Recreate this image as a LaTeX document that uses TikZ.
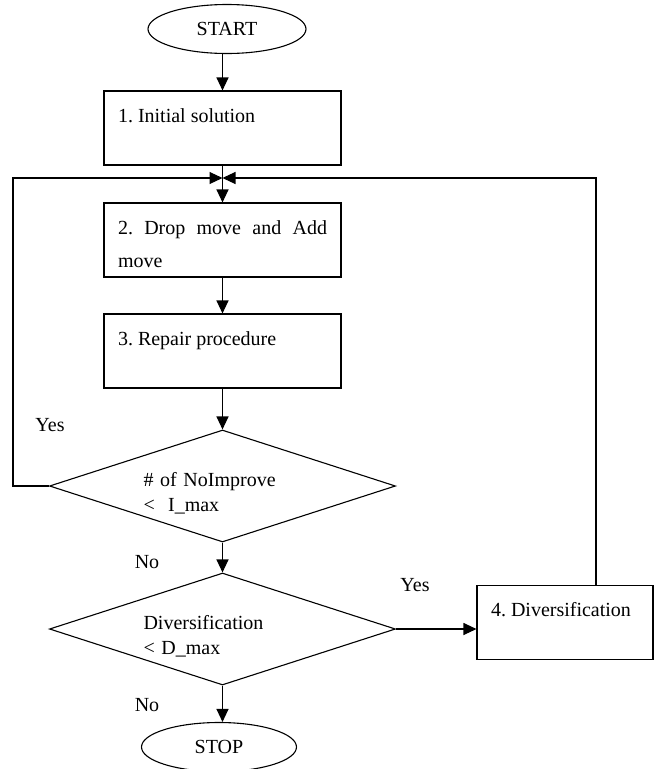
\documentclass[tikz,border=0pt]{standalone}
\usepackage{fontspec}
\setmainfont{Liberation Serif}
\usetikzlibrary{shapes.geometric,arrows.meta}
\frenchspacing
\begin{document}
\begin{tikzpicture}[x=1pt,y=-1pt,line width=1.1pt,
  font=\fontsize{20}{33}\selectfont,
  term/.style={ellipse, draw, minimum width=158pt, minimum height=49pt, inner sep=0pt},
  proc/.style={rectangle, draw, text width=209pt, inner xsep=14pt, inner ysep=0pt,
    text height=31pt, text depth=43pt, align=justify},
  dec/.style={diamond, draw, shape aspect=3.1, minimum width=346pt, minimum height=112pt,
    inner sep=0pt, text width=158pt, text height=29pt, align=left,
    font=\fontsize{20}{25}\selectfont},
  arr/.style={-{Triangle[length=13pt,width=12pt]}}]
\useasboundingbox (0,0) rectangle (660,769);
\node [term] (start) at (227,29) {START};
\node [proc] (box1) at (222.5,128) {1. Initial solution};
\coordinate (join) at (222.5,178);
\node [proc] (box2) at (222.5,240) {2. Drop move and Add move};
\node [proc] (box3) at (222.5,351) {3. Repair procedure};
\node [dec] (dec1) at (222.5,486) {\# of NoImprove\\<~~I\_max};
\node [dec] (dec2) at (222.5,629) {Diversification\\< D\_max};
\node [proc, text width=148pt] (box4) at (565,622.5) {4. Diversification};
\node [term, minimum width=155pt] (stop) at (219,747) {STOP};
\node (yes1) at (50,425) {Yes};
\node (no1) at (147,562) {No};
\node (yes2) at (415,585) {Yes};
\node (no2) at (147,705) {No};
\draw [arr] (start.south -| box1.north) -- (box1.north);
\draw (box1.south) -- (join);
\draw [arr] (join) -- (box2.north);
\draw [arr] (box2.south) -- (box3.north);
\draw [arr] (box3.south) -- (dec1.north);
\draw [arr] (dec1.south) -- (dec2.north);
\draw [arr] (dec2.south) -- (dec2.south |- stop.north);
\draw [arr] (dec2.east) -- (dec2.east -| box4.west);
\draw [arr] (dec1.west) -- ++(-36,0) |- (join);
\draw [arr] ([xshift=31pt]box4.north) |- (join);
\end{tikzpicture}
\end{document}
